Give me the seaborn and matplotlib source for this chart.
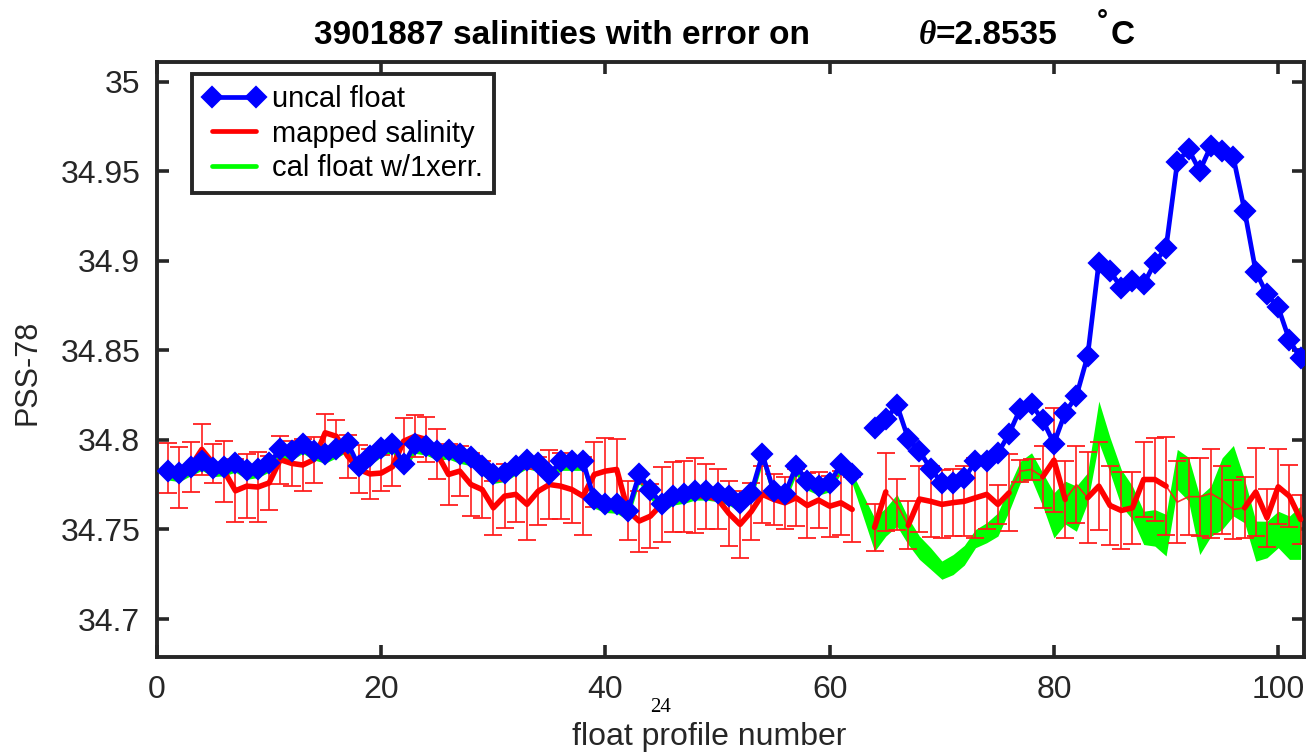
import numpy as np
import pandas as pd
import matplotlib
matplotlib.use("Agg")
import matplotlib.pyplot as plt
from matplotlib.lines import Line2D
import seaborn as sns

nan = np.nan

# float profile numbers
profile = np.arange(1, 103)

# uncalibrated float salinity on the theta level
uncal_float = [
    34.7826, 34.7817, 34.7850, 34.7880, 34.7845, 34.7850, 34.7870, 34.7830, 34.7840, 34.7870,
    34.7947, 34.7938, 34.7975, 34.7938, 34.7920, 34.7950, 34.7984, 34.7853, 34.7910, 34.7955,
    34.7980, 34.7863, 34.7975, 34.7965, 34.7937, 34.7943, 34.7919, 34.7906, 34.7854, 34.7807,
    34.7817, 34.7854, 34.7890, 34.7872, 34.7807, 34.7880, 34.7880, 34.7880, 34.7668, 34.7645,
    34.7640, 34.7602, 34.7807, 34.7723, 34.7640, 34.7686, 34.7696, 34.7714, 34.7714, 34.7705,
    34.7686, 34.7649, 34.7705, 34.7919, 34.7714, 34.7696, 34.7854, 34.7770, 34.7742, 34.7760,
    34.7863, 34.7807, nan,     34.8068, 34.8115, 34.8193, 34.8007, 34.7937, 34.7839, 34.7760,
    34.7760, 34.7785, 34.7880, 34.7880, 34.7925, 34.8035, 34.8175, 34.8198, 34.8110, 34.7980,
    34.8152, 34.8245, 34.8468, 34.8990, 34.8943, 34.8850, 34.8887, 34.8869, 34.8990, 34.9074,
    34.9550, 34.9623, 34.9502, 34.9642, 34.9614, 34.9577, 34.9280, 34.8940, 34.8813, 34.8740,
    34.8557, 34.8455,
]

# mapped (objectively estimated) salinity and its error
mapped_sal = [
    34.7843, 34.7790, 34.7850, 34.7947, 34.7870, 34.7824, 34.7716, 34.7742, 34.7737, 34.7760,
    34.7890, 34.7869, 34.7860, 34.7890, 34.8040, 34.8020, 34.7910, 34.7835, 34.7810, 34.7815,
    34.7850, 34.7993, 34.8020, 34.8003, 34.7920, 34.7807, 34.7826, 34.7751, 34.7723, 34.7621,
    34.7686, 34.7696, 34.7640, 34.7714, 34.7751, 34.7742, 34.7723, 34.7686, 34.7807, 34.7826,
    34.7835, 34.7605, 34.7547, 34.7574, 34.7640, 34.7680, 34.7685, 34.7690, 34.7685, 34.7670,
    34.7590, 34.7528, 34.7600, 34.7696, 34.7668, 34.7649, 34.7677, 34.7634, 34.7664, 34.7630,
    34.7649, 34.7612, nan,     34.7512, 34.7710, 34.7640, 34.7523, 34.7670, 34.7657, 34.7640,
    34.7650, 34.7657, 34.7677, 34.7696, 34.7640, 34.7705, 34.7826, 34.7835, 34.7794, 34.7887,
    34.7668, 34.7751, 34.7677, 34.7742, 34.7634, 34.7606, 34.7621, 34.7779, 34.7779, 34.7742,
    34.7653, 34.7683, 34.7683, 34.7701, 34.7664, 34.7612, 34.7621, 34.7709, 34.7565, 34.7738,
    34.7686, 34.7556,
]
mapped_err = [
    0.0142, 0.0168, 0.0140, 0.0143, 0.0110, 0.0170, 0.0175, 0.0177, 0.0196, 0.0153,
    0.0134, 0.0126, 0.0144, 0.0129, 0.0105, 0.0090, 0.0120, 0.0134, 0.0140, 0.0102,
    0.0110, 0.0130, 0.0117, 0.0125, 0.0140, 0.0168, 0.0140, 0.0177, 0.0160, 0.0150,
    0.0177, 0.0155, 0.0196, 0.0190, 0.0190, 0.0184, 0.0186, 0.0216, 0.0180, 0.0186,
    0.0168, 0.0165, 0.0170, 0.0180, 0.0210, 0.0195, 0.0197, 0.0210, 0.0183, 0.0170,
    0.0180, 0.0185, 0.0160, 0.0160, 0.0144, 0.0145, 0.0160, 0.0179, 0.0158, 0.0170,
    0.0179, 0.0183, nan,    0.0133, 0.0218, 0.0142, 0.0134, 0.0182, 0.0197, 0.0190,
    0.0188, 0.0196, 0.0223, 0.0196, 0.0110, 0.0216, 0.0060, 0.0058, 0.0174, 0.0289,
    0.0215, 0.0214, 0.0255, 0.0244, 0.0223, 0.0214, 0.0200, 0.0207, 0.0231, 0.0273,
    0.0230, 0.0214, 0.0217, 0.0249, 0.0191, 0.0166, 0.0171, 0.0244, 0.0162, 0.0210,
    0.0174, 0.0137,
]

# calibrated float salinity and its error
cal_float = [
    34.7806, 34.7797, 34.7830, 34.7860, 34.7825, 34.7830, 34.7850, 34.7810, 34.7820, 34.7850,
    34.7927, 34.7918, 34.7955, 34.7918, 34.7900, 34.7930, 34.7964, 34.7833, 34.7890, 34.7935,
    34.7960, 34.7843, 34.7955, 34.7945, 34.7917, 34.7923, 34.7899, 34.7886, 34.7834, 34.7787,
    34.7797, 34.7834, 34.7870, 34.7852, 34.7787, 34.7860, 34.7860, 34.7860, 34.7648, 34.7625,
    34.7620, 34.7582, 34.7787, 34.7703, 34.7620, 34.7666, 34.7676, 34.7694, 34.7694, 34.7685,
    34.7666, 34.7629, 34.7685, 34.7899, 34.7694, 34.7676, 34.7834, 34.7750, 34.7722, 34.7740,
    34.7843, 34.7787, nan,     34.7472, 34.7542, 34.7607, 34.7490, 34.7398, 34.7338, 34.7273,
    34.7304, 34.7356, 34.7449, 34.7482, 34.7528, 34.7672, 34.7821, 34.7854, 34.7723, 34.7579,
    34.7650, 34.7616, 34.7733, 34.8101, 34.7915, 34.7733, 34.7649, 34.7509, 34.7509, 34.7468,
    34.7835, 34.7781, 34.7523, 34.7602, 34.7700, 34.7772, 34.7658, 34.7435, 34.7444, 34.7500,
    34.7454, 34.7482,
]
cal_err = [
    0.0030, 0.0030, 0.0030, 0.0030, 0.0030, 0.0030, 0.0030, 0.0030, 0.0030, 0.0030,
    0.0030, 0.0030, 0.0030, 0.0030, 0.0030, 0.0030, 0.0030, 0.0030, 0.0030, 0.0030,
    0.0030, 0.0030, 0.0030, 0.0030, 0.0030, 0.0030, 0.0030, 0.0030, 0.0030, 0.0030,
    0.0030, 0.0030, 0.0030, 0.0030, 0.0030, 0.0030, 0.0030, 0.0030, 0.0030, 0.0030,
    0.0030, 0.0030, 0.0030, 0.0030, 0.0030, 0.0030, 0.0030, 0.0030, 0.0030, 0.0030,
    0.0030, 0.0030, 0.0030, 0.0030, 0.0030, 0.0030, 0.0030, 0.0030, 0.0030, 0.0030,
    0.0030, 0.0030, nan,    0.0093, 0.0079, 0.0089, 0.0074, 0.0065, 0.0060, 0.0051,
    0.0056, 0.0055, 0.0051, 0.0056, 0.0065, 0.0070, 0.0060, 0.0074, 0.0093, 0.0126,
    0.0120, 0.0126, 0.0084, 0.0116, 0.0098, 0.0102, 0.0093, 0.0093, 0.0102, 0.0116,
    0.0112, 0.0122, 0.0163, 0.0140, 0.0200, 0.0197, 0.0121, 0.0112, 0.0102, 0.0102,
    0.0121, 0.0149,
]

# profiles where the mapped-salinity curve is drawn only with the thin errorbar line
thin_profiles = [66, 77, 78, 82, 91, 92, 93, 94, 95, 96]

title_left = "3901887 salinities with error on"
title_theta = "\u03b8"
title_value = "=2.8535"
x_label = "float profile number"
y_label = "PSS-78"
x_ticks = [0, 20, 40, 60, 80, 100]
y_ticks = [34.7, 34.75, 34.8, 34.85, 34.9, 34.95, 35.0]
y_ticklabels = ["34.7", "34.75", "34.8", "34.85", "34.9", "34.95", "35"]
legend_labels = ["uncal float", "mapped salinity", "cal float w/1xerr."]

BLUE = "#0000ff"
RED = "#ff0000"
GREEN = "#00ff00"
INK = "#262626"

sns.set_theme(style="white")
plt.rcParams["font.family"] = ["Liberation Sans", "DejaVu Sans"]

W, H = 1308, 756
fig = plt.figure(figsize=(W / 100, H / 100), dpi=100)
ax = fig.add_axes([157 / W, (H - 657) / H, (1304 - 157) / W, (657 - 62) / H])


def segmented(x, y):
    """Frame with a segment id that increases at every missing value."""
    y = np.asarray(y, dtype=float)
    seg = np.cumsum(np.isnan(y))
    df = pd.DataFrame({"profile": x, "value": y, "seg": seg})
    return df.dropna()


# calibrated float +/- error band
cal = np.asarray(cal_float)
cerr = np.asarray(cal_err)
ok = ~np.isnan(cal)
ax.fill_between(profile[ok], cal[ok] - cerr[ok], cal[ok] + cerr[ok],
                color=GREEN, linewidth=0, zorder=1)

# mapped salinity with error bars (thin line)
ax.errorbar(profile, mapped_sal, yerr=mapped_err, fmt="-", color="#ff1a1a",
            lw=1.2, elinewidth=1.3, capsize=6.8, capthick=1.4, alpha=0.9, zorder=2)

# thick mapped-salinity curve
thick = np.asarray(mapped_sal, dtype=float).copy()
thick[np.isin(profile, thin_profiles)] = np.nan
sns.lineplot(data=segmented(profile, thick), x="profile", y="value", units="seg",
             estimator=None, color=RED, lw=4.0, legend=False, ax=ax, zorder=3,
             solid_capstyle="round", solid_joinstyle="round")

# uncalibrated float salinity
sns.lineplot(data=segmented(profile, uncal_float), x="profile", y="value", units="seg",
             estimator=None, color=BLUE, lw=3.4, marker="D", markersize=9.0,
             markeredgewidth=2.6, markeredgecolor=BLUE, markerfacecolor=BLUE,
             legend=False, ax=ax, zorder=4)

ax.set_xlim(0, 102.3)
ax.set_ylim(34.6788, 35.011)
ax.set_xticks(x_ticks)
ax.set_xticklabels([str(t) for t in x_ticks])
ax.set_yticks(y_ticks)
ax.set_yticklabels(y_ticklabels)
ax.set_xlabel("")
ax.set_ylabel("")

for side in ["left", "right", "top", "bottom"]:
    ax.spines[side].set_visible(True)
    ax.spines[side].set_color(INK)
    ax.spines[side].set_linewidth(2.8)
ax.tick_params(axis="both", which="major", direction="in", length=8.6, width=2.6,
               color=INK, labelcolor=INK, labelsize=23, top=True, right=True,
               bottom=True, left=True)
ax.tick_params(axis="x", pad=13)
ax.tick_params(axis="y", pad=12)


def fx(px):
    return px / W


def fy(py):
    return 1 - py / H


# title pieces
fig.text(fx(562), fy(35), title_left, ha="center", va="center", fontsize=24,
         fontweight="bold", color="black")
fig.text(fx(919), fy(36), title_theta, ha="left", va="center", fontsize=24,
         fontweight="bold", fontstyle="italic",
         family=["Liberation Serif", "DejaVu Serif"], color="black")
fig.text(fx(936), fy(35), title_value, ha="left", va="center", fontsize=24,
         fontweight="bold", color="black")
fig.text(fx(1097), fy(22), "\u00b0", ha="left", va="center", fontsize=20,
         fontweight="bold", color="black")
fig.text(fx(1111), fy(35), "C", ha="left", va="center", fontsize=24,
         fontweight="bold", color="black")

# axis labels
fig.text(fx(709), fy(737), x_label, ha="center", va="center", fontsize=23, color=INK)
fig.text(fx(28), fy(372), y_label, ha="center", va="center", fontsize=22,
         rotation=90, color=INK)
fig.text(fx(661), fy(707), "24", ha="center", va="center", fontsize=15,
         family=["Liberation Serif", "DejaVu Serif"], color="black")

handles = [
    Line2D([], [], color=BLUE, lw=3.4, marker="D", markersize=9.0,
           markeredgewidth=2.6, markeredgecolor=BLUE),
    Line2D([], [], color=RED, lw=3.4),
    Line2D([], [], color=GREEN, lw=3.4),
]
leg = ax.legend(handles, legend_labels, loc="upper left",
                bbox_to_anchor=(fx(192), fy(74)), bbox_transform=fig.transFigure,
                borderaxespad=0, fontsize=21, frameon=True, fancybox=False,
                framealpha=1, edgecolor=INK, numpoints=2, handlelength=2.1,
                handletextpad=0.25, labelspacing=0.22, borderpad=0.38)
leg.get_frame().set_linewidth(2.8)
for t in leg.get_texts():
    t.set_color("black")

fig.savefig("out.png", dpi=100)
